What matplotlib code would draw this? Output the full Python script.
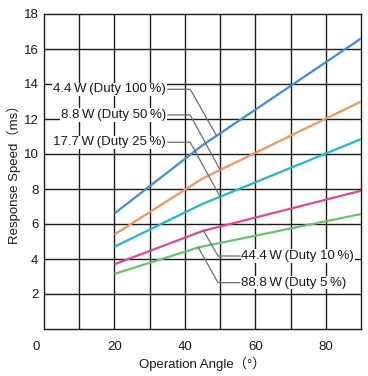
import matplotlib
matplotlib.use("Agg")
import matplotlib.pyplot as plt
import matplotlib.transforms as mtransforms
import numpy as np

plt.rcParams['font.family'] = ['Liberation Sans', 'Noto Sans CJK JP', 'DejaVu Sans']

# Data
angle_blue = [20, 45, 90]
speed_blue = [6.6, 10.5, 16.6]        # 4.4 W (Duty 100 %)
angle_orange = [20, 45, 90]
speed_orange = [5.4, 8.6, 13.0]       # 8.8 W (Duty 50 %)
angle_cyan = [20, 45, 90]
speed_cyan = [4.7, 7.15, 10.85]       # 17.7 W (Duty 25 %)
angle_pink = [20, 45, 90]
speed_pink = [3.7, 5.6, 7.9]          # 44.4 W (Duty 10 %)
angle_green = [20, 44, 90]
speed_green = [3.15, 4.67, 6.57]      # 88.8 W (Duty 5 %)

labels = ["4.4\u2009W\u2009(Duty 100\u2009%)",
          "8.8\u2009W\u2009(Duty 50\u2009%)",
          "17.7\u2009W\u2009(Duty 25\u2009%)",
          "44.4\u2009W\u2009(Duty 10\u2009%)",
          "88.8\u2009W\u2009(Duty 5\u2009%)"]
x_ticks = [0, 20, 40, 60, 80]
y_ticks = [2, 4, 6, 8, 10, 12, 14, 16, 18]

colors = ["#3d8ed6", "#f8935e", "#1cb8d4", "#e04890", "#6ac36c"]

fig = plt.figure(figsize=(3.68, 3.76), dpi=100)
ax = fig.add_axes([44/368, 47/376, 317/368, 315/376])
ax.set_xlim(0, 90)
ax.set_ylim(0, 18)

# grid
for gx in range(10, 90, 10):
    ax.axvline(gx, color="#1a1a1a", lw=1.0, zorder=1)
for gy in range(2, 18, 2):
    ax.axhline(gy, color="#1a1a1a", lw=1.0, zorder=1)
for s in ax.spines.values():
    s.set_color("#1a1a1a")
    s.set_linewidth(1.0)

series = [(angle_blue, speed_blue), (angle_orange, speed_orange),
          (angle_cyan, speed_cyan), (angle_pink, speed_pink),
          (angle_green, speed_green)]
for (xs, ys), c in zip(series, colors):
    ax.plot(xs, ys, color=c, lw=1.6, zorder=3, solid_capstyle='butt')

ax.set_xticks(x_ticks)
ax.set_yticks(y_ticks)
ax.tick_params(length=0, labelsize=9.5, colors="#1a1a1a")
ax.tick_params(axis='x', pad=9)
ax.tick_params(axis='y', pad=4)
# shift the "0" label left
lbl0 = ax.get_xticklabels()[0]
lbl0.set_transform(lbl0.get_transform() + mtransforms.ScaledTranslation(-8/100, 0, fig.dpi_scale_trans))

ax.set_xlabel("Operation Angle\uff08°\uff09", fontsize=9.5, labelpad=2, color="#1a1a1a")
ax.set_ylabel("Response Speed\uff08ms\uff09", fontsize=9.5, labelpad=2, color="#1a1a1a")

lead_c = "#6e6e6e"
bbox = dict(facecolor="white", edgecolor="none", pad=0.5)

# upper labels with leaders
upper = [(13.7, 49.0, speed_blue, angle_blue, labels[0]),
         (12.23, 50.0, speed_orange, angle_orange, labels[1]),
         (10.67, 50.0, speed_cyan, angle_cyan, labels[2])]
for ly, tx, ys, xs, lab in upper:
    ty = np.interp(tx, xs, ys)
    ax.plot([35.2, 41.5, tx], [ly, ly, ty], color=lead_c, lw=0.9, zorder=4)
    ax.text(34.6, ly, lab, ha="right", va="center", fontsize=9.5,
            color="#1a1a1a", bbox=bbox, zorder=5)

# lower labels with leaders
lower = [(4.17, 45.3, speed_pink, angle_pink, labels[3]),
         (2.65, 43.8, speed_green, angle_green, labels[4])]
for ly, sx, ys, xs, lab in lower:
    sy = np.interp(sx, xs, ys)
    ax.plot([sx, 49.4, 55.6], [sy, ly, ly], color=lead_c, lw=0.9, zorder=4)
    ax.text(56.0, ly, lab, ha="left", va="center", fontsize=9.5,
            color="#1a1a1a", bbox=bbox, zorder=5)

fig.savefig("out.png", dpi=100)
